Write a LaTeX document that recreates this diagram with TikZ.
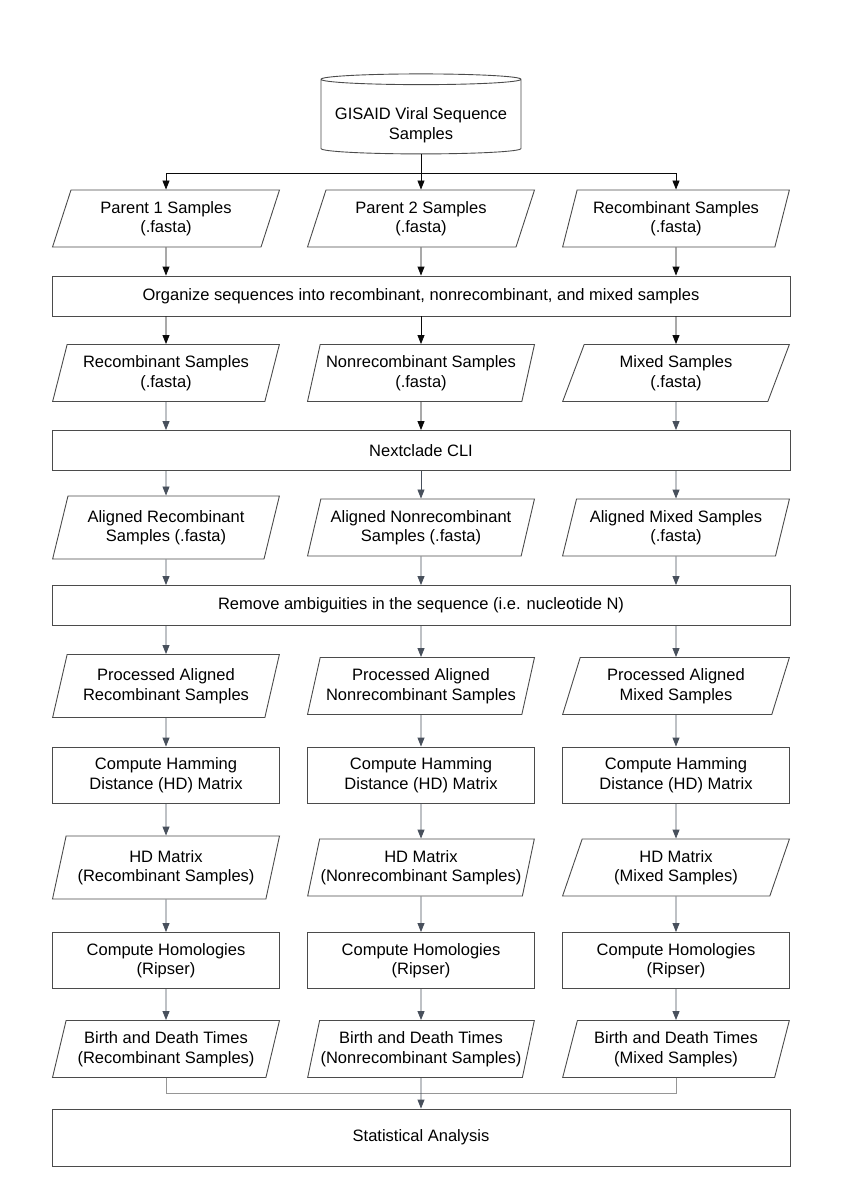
\documentclass[tikz,border=0pt]{standalone}
\usepackage{fontspec}
\setmainfont{Liberation Sans}
\usepackage{tikz}
\usetikzlibrary{arrows.meta,positioning,shapes.geometric,calc}
\definecolor{boxline}{RGB}{75,75,75}
\definecolor{arrdark}{RGB}{10,10,10}
\definecolor{arrgray}{RGB}{72,80,92}
\definecolor{joingray}{RGB}{150,150,150}

\begin{document}
\begin{tikzpicture}[
    x=1pt, y=-1pt,
    font=\fontsize{16.5}{19.5}\selectfont,
    io/.style={draw=boxline, line width=0.9pt, trapezium,
               trapezium left angle=75, trapezium right angle=105,
               trapezium stretches=true, minimum width=227pt,
               minimum height=57pt, inner xsep=-12pt, inner ysep=2pt,
               align=center},
    tallio/.style={io, minimum height=63pt},
    proc/.style={draw=boxline, line width=0.9pt, rectangle, align=center,
                 minimum width=227pt, minimum height=56pt},
    wide/.style={draw=boxline, line width=0.9pt, rectangle, align=center,
                 minimum width=738pt, minimum height=40pt},
    arr/.style={-{Triangle[length=9pt,width=7pt]}, line width=0.9pt, arrdark},
    garr/.style={arr, arrgray},
    jline/.style={line width=0.9pt, joingray}
]
\useasboundingbox (0,0) rectangle (843,1200);

\node[draw=boxline, line width=0.9pt, cylinder, shape border rotate=90,
      aspect=0.06, minimum width=200pt, minimum height=80pt, align=center]
    (src) at (421,117.5) {\mbox{}\\[8pt]GISAID Viral Sequence\\Samples};

\node[io] (p1) at (166,218.5) {Parent 1 Samples\\(.fasta)};
\node[io] (p2) at (421,218.5) {Parent 2 Samples\\(.fasta)};
\node[io] (p3) at (676,218.5) {Recombinant Samples\\(.fasta)};

\node[wide] (org) at (421,296)
    {Organize sequences into recombinant, nonrecombinant, and mixed samples};

\node[io] (s1) at (166,373) {Recombinant Samples\\(.fasta)};
\node[io] (s2) at (421,373) {Nonrecombinant Samples\\(.fasta)};
\node[io] (s3) at (676,373) {Mixed Samples\\(.fasta)};

\node[wide] (nc) at (421,450.5) {Nextclade CLI};

\node[tallio] (a1) at (166,527.5) {Aligned Recombinant\\Samples (.fasta)};
\node[io] (a2) at (421,527.5) {Aligned Nonrecombinant\\Samples (.fasta)};
\node[io] (a3) at (676,527.5) {Aligned Mixed Samples\\(.fasta)};

\node[wide] (rm) at (421,605.5)
    {Remove ambiguities in the sequence (i.e. nucleotide N)};

\node[tallio] (q1) at (166,686) {Processed Aligned\\Recombinant Samples};
\node[io] (q2) at (421,686) {Processed Aligned\\Nonrecombinant Samples};
\node[io] (q3) at (676,686) {Processed Aligned\\Mixed Samples};

\node[proc] (h1) at (166,775) {Compute Hamming\\Distance (HD) Matrix};
\node[proc] (h2) at (421,775) {Compute Hamming\\Distance (HD) Matrix};
\node[proc] (h3) at (676,775) {Compute Hamming\\Distance (HD) Matrix};

\node[tallio] (m1) at (166,867.5) {HD Matrix\\(Recombinant Samples)};
\node[io] (m2) at (421,867.5) {HD Matrix\\(Nonrecombinant Samples)};
\node[io] (m3) at (676,867.5) {HD Matrix\\(Mixed Samples)};

\node[proc] (c1) at (166,960.5) {Compute Homologies\\(Ripser)};
\node[proc] (c2) at (421,960.5) {Compute Homologies\\(Ripser)};
\node[proc] (c3) at (676,960.5) {Compute Homologies\\(Ripser)};

\node[io] (b1) at (166,1049) {Birth and Death Times\\(Recombinant Samples)};
\node[io] (b2) at (421,1049) {Birth and Death Times\\(Nonrecombinant Samples)};
\node[io] (b3) at (676,1049) {Birth and Death Times\\(Mixed Samples)};

\node[wide, minimum height=57pt] (stat) at (421,1137.5) {Statistical Analysis};

\coordinate (split) at (421,173);
\coordinate (join) at (421,1093);

\draw[arr] (src) -- (p2);
\draw[arr] (split) -| (p1);
\draw[arr] (split) -| (p3);

\draw[arr] (p1) -- (p1 |- org.north);
\draw[arr] (p2) -- (org);
\draw[arr] (p3) -- (p3 |- org.north);

\draw[arr] (org.south -| s1) -- (s1);
\draw[arr] (org) -- (s2);
\draw[arr] (org.south -| s3) -- (s3);

\draw[garr] (s1) -- (s1 |- nc.north);
\draw[arr] (s2) -- (nc);
\draw[garr] (s3) -- (s3 |- nc.north);

\draw[garr] (nc.south -| a1) -- (a1);
\draw[garr] (nc) -- (a2);
\draw[garr] (nc.south -| a3) -- (a3);

\draw[garr] (a1) -- (a1 |- rm.north);
\draw[garr] (a2) -- (rm);
\draw[garr] (a3) -- (a3 |- rm.north);

\draw[garr] (rm.south -| q1) -- (q1);
\draw[garr] (rm) -- (q2);
\draw[garr] (rm.south -| q3) -- (q3);

\draw[garr] (q1) -- (h1);
\draw[garr] (q2) -- (h2);
\draw[garr] (q3) -- (h3);

\draw[garr] (h1) -- (m1);
\draw[garr] (h2) -- (m2);
\draw[garr] (h3) -- (m3);

\draw[garr] (m1) -- (c1);
\draw[garr] (m2) -- (c2);
\draw[garr] (m3) -- (c3);

\draw[garr] (c1) -- (b1);
\draw[garr] (c2) -- (b2);
\draw[garr] (c3) -- (b3);

\draw[jline] (b1) |- (join);
\draw[jline] (b3) |- (join);
\draw[garr] (b2) -- (stat);

\end{tikzpicture}
\end{document}
